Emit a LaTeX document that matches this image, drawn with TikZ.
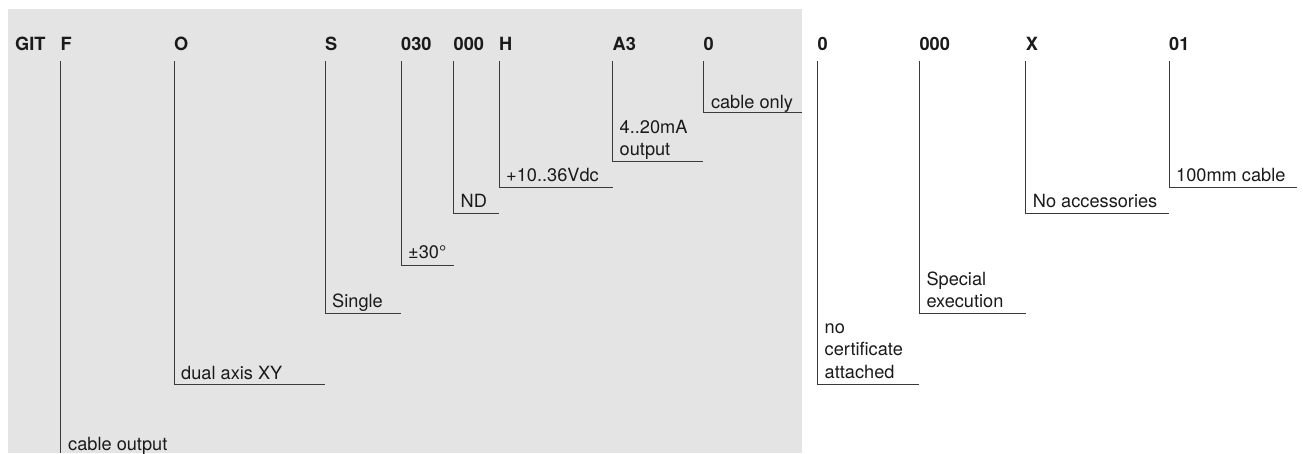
\documentclass[tikz,border=0pt]{standalone}
\usepackage{fontspec}
\setmainfont{TeX Gyre Heros}
\definecolor{bggray}{HTML}{E3E4E3}
\definecolor{linecol}{HTML}{3A3A3A}
\definecolor{txtcol}{HTML}{1A1A1A}
\begin{document}
\begin{tikzpicture}[x=1pt,y=-1pt,
  code/.style={anchor=base west,inner sep=0pt,font=\fontsize{18.2}{22.3}\selectfont\bfseries,text=txtcol},
  desc/.style={anchor=base west,inner sep=0pt,align=left,font=\fontsize{18.2}{22.3}\selectfont,text=txtcol},
  lead/.style={draw=linecol,line width=1pt}]
\useasboundingbox (0,0) rectangle (1303,453);
\fill[bggray] (8,9) rectangle (801.5,453);
% header codes
\node[code] (hGIT) at (15,50) {GIT};
\node[code] (hF) at (60.5,50) {F};
\node[code] (hO) at (174,50) {O};
\node[code] (hS) at (325,50) {S};
\node[code] (h030) at (401,50) {030};
\node[code] (h000a) at (453.5,50) {000};
\node[code] (hH) at (499,50) {H};
\node[code] (hA3) at (612.5,50) {A3};
\node[code] (h0a) at (703.3,50) {0};
\node[code] (h0b) at (817.5,50) {0};
\node[code] (h000b) at (919.3,50) {000};
\node[code] (hX) at (1025.7,50) {X};
\node[code] (h01) at (1169,50) {01};
% descriptions (base = baseline of the last line)
\node[desc] (dF) at (68,450) {cable output};
\node[desc] (dO) at (181,379) {dual axis XY};
\node[desc] (dS) at (332,307.7) {Single};
\node[desc] (d030) at (408,258.7) {±30°};
\node[desc] (d000a) at (460.5,207.3) {ND};
\node[desc] (dH) at (506,181.7) {+10..36Vdc};
\node[desc] (dA3) at (619.5,155.5) {4..20mA\\output};
\node[desc] (d0a) at (710.8,108.3) {cable only};
\node[desc] (d0b) at (824.5,378) {no\\certificate\\attached};
\node[desc] (d000b) at (926.3,307.3) {Special\\execution};
\node[desc] (dX) at (1032.7,207.3) {No accessories};
\node[desc] (d01) at (1176,181.7) {100mm cable};
% end points of the leaders
\coordinate (eF) at (60.5,453);
\coordinate (eO) at (325,384.5);
\coordinate (eS) at (401,313.5);
\coordinate (e030) at (453.5,265);
\coordinate (e000a) at (499,213.3);
\coordinate (eH) at (612.5,187.5);
\coordinate (eA3) at (703.3,161.7);
\coordinate (e0a) at (801.5,112.7);
\coordinate (e0b) at (919.3,384.5);
\coordinate (e000b) at (1025.7,313.3);
\coordinate (eX) at (1169,213.3);
\coordinate (e01) at (1297,187.5);
% leaders
\draw[lead] (hF.base west) ++(0,11) -- (eF);
\foreach \n in {O,S,030,000a,H,A3,0a,0b,000b,X,01}{
  \draw[lead] ([yshift=-11pt]h\n.base west) |- (e\n);
}
\end{tikzpicture}
\end{document}
